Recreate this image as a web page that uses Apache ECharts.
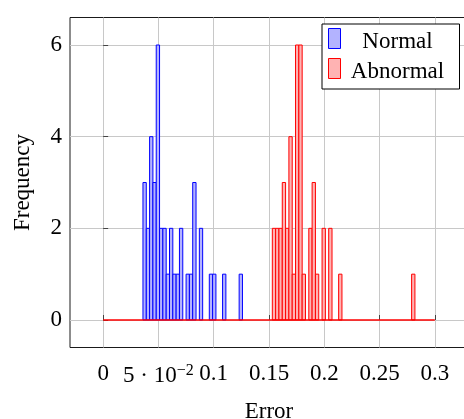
<!DOCTYPE html>
<html>
<head>
<meta charset="utf-8">
<script src="https://cdn.jsdelivr.net/npm/echarts@6/dist/echarts.min.js"></script>
<style>
  html, body { margin: 0; padding: 0; background: #fff; }
  #chart { width: 464px; height: 419px; }
</style>
</head>
<body>
<div id="chart"></div>
<script>
// Histogram bins: lower edge of each non-empty bin and its count
const binWidth = 0.003;
const normalBinStarts = [0.036, 0.039, 0.042, 0.045, 0.048, 0.051, 0.054, 0.057, 0.060, 0.063,
                         0.066, 0.069, 0.075, 0.078, 0.081, 0.087, 0.096, 0.099, 0.108, 0.123];
const normalCounts    = [3, 2, 4, 3, 6, 2, 2, 1, 2, 1,
                         1, 2, 1, 1, 3, 2, 1, 1, 1, 1];
const abnormalBinStarts = [0.153, 0.156, 0.159, 0.162, 0.165, 0.168, 0.171, 0.174, 0.177, 0.180,
                           0.186, 0.189, 0.192, 0.198, 0.204, 0.213, 0.279];
const abnormalCounts    = [2, 2, 2, 3, 2, 4, 1, 6, 6, 1,
                           2, 3, 1, 2, 2, 1, 1];
// Histogram range (zero-height bins form the baseline)
const histRange = [0, 0.3];

const xTickValues = [0, 0.05, 0.1, 0.15, 0.2, 0.25, 0.3];
const xTickLabels = ['0', '{m|5 · 10}{s|−2}', '0.1', '0.15', '0.2', '0.25', '0.3'];
const yTickValues = [0, 2, 4, 6];
const yTickLabels = ['0', '2', '4', '6'];

const FONT = "'Liberation Serif', 'DejaVu Serif', serif";
const FS = 23;

function histItem(fill, stroke) {
  return function (params, api) {
    const x0 = api.value(0);
    const h = api.value(1);
    const pTop = api.coord([x0, h]);
    const pBot = api.coord([x0 + binWidth, 0]);
    return {
      type: 'rect',
      shape: { x: pTop[0], y: pTop[1], width: pBot[0] - pTop[0], height: pBot[1] - pTop[1] },
      style: { fill: fill, stroke: stroke, lineWidth: 1 }
    };
  };
}

const blueFill = 'rgb(179,179,255)', blueLine = '#0000ff';
const redFill = 'rgb(255,179,179)', redLine = '#ff0000';

const chart = echarts.init(document.getElementById('chart'), null, { renderer: 'canvas' });
chart.setOption({
  animation: false,
  backgroundColor: '#fff',
  grid: {
    left: 70, top: 17.5, width: 398, height: 330,
    show: true, borderColor: '#1a1a1a', borderWidth: 1, backgroundColor: 'transparent',
    containLabel: false,
    outerBoundsMode: 'none'
  },
  legend: {
    orient: 'vertical',
    left: 322, top: 24,
    padding: [0, 10, 6, 6],
    itemWidth: 12, itemHeight: 20, itemGap: 1,
    borderColor: '#000', borderWidth: 1,
    backgroundColor: '#fff',
    selectedMode: false,
    icon: 'rect',
    data: [
      { name: 'Normal', itemStyle: { color: blueFill, borderColor: blueLine, borderWidth: 1 } },
      { name: 'Abnormal', itemStyle: { color: redFill, borderColor: redLine, borderWidth: 1 } }
    ],
    formatter: function (name) { return '{c|' + name + '}'; },
    textStyle: {
      fontFamily: FONT, fontSize: FS, color: '#000',
      rich: { c: { width: 104, align: 'center', fontFamily: FONT, fontSize: FS, color: '#000', lineHeight: 23, padding: [6, 0, 0, 0] } }
    }
  },
  xAxis: {
    type: 'value',
    min: -0.03, max: 0.33,
    name: 'Error', nameLocation: 'middle', nameGap: 53,
    nameTextStyle: { fontFamily: FONT, fontSize: FS, color: '#000' },
    axisLine: { show: false },
    axisTick: { show: true, inside: true, length: 5, customValues: xTickValues, lineStyle: { color: '#444' } },
    splitLine: { show: true, lineStyle: { color: '#c8c8c8', width: 1 } },
    axisLabel: {
      customValues: xTickValues,
      margin: 15,
      fontFamily: FONT, fontSize: FS, color: '#000',
      formatter: function (v) {
        for (let i = 0; i < xTickValues.length; i++) {
          if (Math.abs(v - xTickValues[i]) < 1e-9) return xTickLabels[i];
        }
        return '';
      },
      rich: {
        m: { fontFamily: FONT, fontSize: FS, color: '#000' },
        s: { fontFamily: FONT, fontSize: 16, color: '#000', verticalAlign: 'top', padding: [0, 0, 10, 0] }
      }
    }
  },
  yAxis: {
    type: 'value',
    min: -0.6, max: 6.6,
    name: 'Frequency', nameLocation: 'middle', nameGap: 36, nameRotate: 90,
    nameTextStyle: { fontFamily: FONT, fontSize: FS, color: '#000' },
    axisLine: { show: false },
    axisTick: { show: true, inside: true, length: 5, customValues: yTickValues, lineStyle: { color: '#444' } },
    splitLine: { show: true, lineStyle: { color: '#c8c8c8', width: 1 } },
    axisLabel: {
      customValues: yTickValues,
      margin: 8,
      fontFamily: FONT, fontSize: FS, color: '#000',
      formatter: function (v) {
        const i = yTickValues.indexOf(v);
        return i >= 0 ? yTickLabels[i] : '';
      }
    }
  },
  series: [
    {
      name: 'Normal', type: 'custom',
      renderItem: histItem(blueFill, blueLine),
      itemStyle: { color: blueFill, borderColor: blueLine },
      encode: { x: 0, y: 1 },
      data: normalBinStarts.map((s, i) => [s, normalCounts[i]]),
      z: 2
    },
    {
      name: 'Abnormal', type: 'custom',
      renderItem: histItem(redFill, redLine),
      itemStyle: { color: redFill, borderColor: redLine },
      encode: { x: 0, y: 1 },
      data: abnormalBinStarts.map((s, i) => [s, abnormalCounts[i]]),
      z: 3
    },
    {
      name: 'baseline', type: 'line',
      data: [[histRange[0], 0], [histRange[1], 0]],
      symbol: 'none',
      lineStyle: { color: redLine, width: 1.3 },
      silent: true,
      z: 4
    }
  ]
});
</script>
</body>
</html>
